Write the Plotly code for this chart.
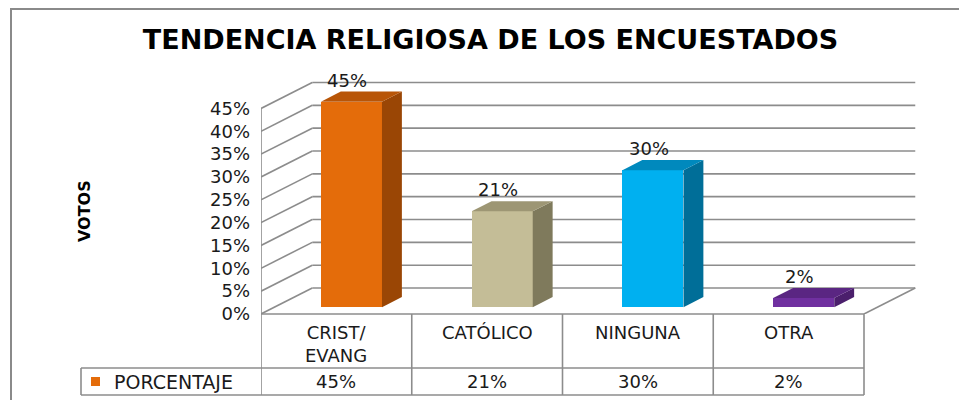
import plotly.graph_objects as go

# ---- data ----
categories = ["CRIST/<br>EVANG", "CATÓLICO", "NINGUNA", "OTRA"]
values = [45, 21, 30, 2]
series_name = "PORCENTAJE"
y_ticks = [0, 5, 10, 15, 20, 25, 30, 35, 40, 45]
title_text = "TENDENCIA RELIGIOSA DE LOS ENCUESTADOS"
y_title = "VOTOS"

# ---- styles ----
front_colors = ["#E46C0A", "#C4BD97", "#00B0F0", "#7030A0"]
side_colors = ["#9A4605", "#7F7A5C", "#006E98", "#4B1F6C"]
top_colors = ["#B85507", "#9D9674", "#0089BD", "#5A2682"]
grid_color = "#8C8C8C"
font_family = "DejaVu Sans"

W, H = 959, 400
L, R, T, B = 261, 42, 60, 86
PW, PH = W - L - R, H - T - B
PX_PER_X = 150.75
PX_PER_V = 4.567
X_MAX = PW / PX_PER_X
Y_MAX = PH / PX_PER_V

DX, DV = 0.34, 5.69          # full depth of the 3D box (axis units)
BX, BV = 0.10, 1.5           # bar front face offset into depth
BDX, BDV = 0.132, 2.2        # bar depth
BW = 0.405                   # bar width
n = len(categories)


def pxp(xpix):
    return (xpix - L) / PW


def pyp(ypix):
    return (H - B - ypix) / PH


fig = go.Figure()
shapes = []
grid_line = dict(color=grid_color, width=1.6)

# gridlines / walls (below traces)
for v in y_ticks:
    shapes.append(dict(type="line", xref="x", yref="y", x0=0, y0=v, x1=DX, y1=v + DV, line=grid_line, layer="below"))
    shapes.append(dict(type="line", xref="x", yref="y", x0=DX, y0=v + DV, x1=n + DX, y1=v + DV, line=grid_line, layer="below"))
shapes.append(dict(type="line", xref="x", yref="y", x0=0, y0=0, x1=0, y1=max(y_ticks), line=grid_line, layer="below"))
shapes.append(dict(type="line", xref="x", yref="y", x0=n, y0=0, x1=n + DX, y1=DV, line=grid_line, layer="below"))

# bars: front faces
xc = [i + 0.5 + BX for i in range(n)]
fig.add_trace(go.Bar(x=xc, y=values, base=BV, width=BW, marker=dict(color=front_colors, line=dict(width=0)),
                     name=series_name, showlegend=False))

# side and top faces
for i, v in enumerate(values):
    xl, xr = xc[i] - BW / 2, xc[i] + BW / 2
    fig.add_trace(go.Scatter(x=[xr, xr + BDX, xr + BDX, xr, xr],
                             y=[BV, BV + BDV, BV + v + BDV, BV + v, BV],
                             fill="toself", fillcolor=side_colors[i], mode="lines",
                             line=dict(width=0, color=side_colors[i]), hoverinfo="skip", showlegend=False))
    fig.add_trace(go.Scatter(x=[xl, xr, xr + BDX, xl + BDX, xl],
                             y=[BV + v, BV + v, BV + v + BDV, BV + v + BDV, BV + v],
                             fill="toself", fillcolor=top_colors[i], mode="lines",
                             line=dict(width=0, color=top_colors[i]), hoverinfo="skip", showlegend=False))

annotations = []
# data labels
for i, v in enumerate(values):
    annotations.append(dict(x=xc[i], y=BV + v + BDV, xref="x", yref="y", text=f"{v}%",
                            showarrow=False, yanchor="bottom", xshift=-4, yshift=-1,
                            font=dict(family=font_family, size=18, color="#1a1a1a")))

# data table
tbl_line = dict(color=grid_color, width=1.6)
row1_top, row2_top, row2_bot = 314, 368, 395
leg_left = 81
shapes.append(dict(type="line", xref="x", yref="paper", x0=0, x1=n, y0=pyp(row1_top), y1=pyp(row1_top), line=tbl_line))
for i in range(n + 1):
    shapes.append(dict(type="line", xref="x", yref="paper", x0=i, x1=i, y0=pyp(row1_top), y1=pyp(row2_bot), line=tbl_line))
for yy in (row2_top, row2_bot):
    shapes.append(dict(type="line", xref="paper", yref="paper", x0=pxp(leg_left), x1=pxp(L + n * PX_PER_X),
                       y0=pyp(yy), y1=pyp(yy), line=tbl_line))
shapes.append(dict(type="line", xref="paper", yref="paper", x0=pxp(leg_left), x1=pxp(leg_left),
                   y0=pyp(row2_top), y1=pyp(row2_bot), line=tbl_line))
# legend key
shapes.append(dict(type="rect", xref="paper", yref="paper", x0=pxp(91), x1=pxp(100), y0=pyp(377), y1=pyp(386),
                   fillcolor=front_colors[0], line=dict(width=0)))
# outer border (top + left visible)
shapes.append(dict(type="rect", xref="paper", yref="paper", x0=pxp(11), x1=pxp(975), y0=pyp(9), y1=pyp(420),
                   line=dict(color="#8A8A8A", width=2), fillcolor="rgba(0,0,0,0)", layer="below"))

for i, c in enumerate(categories):
    annotations.append(dict(x=i + 0.5, y=pyp(320), xref="x", yref="paper", text=c, showarrow=False,
                            yanchor="top", font=dict(family=font_family, size=18, color="#1a1a1a")))
    annotations.append(dict(x=i + 0.5, y=pyp((row2_top + row2_bot) / 2), xref="x", yref="paper",
                            text=f"{values[i]}%", showarrow=False, yanchor="middle",
                            font=dict(family=font_family, size=18, color="#1a1a1a")))
annotations.append(dict(x=pxp(112), y=pyp((row2_top + row2_bot) / 2), xref="paper", yref="paper",
                        text=series_name, showarrow=False, xanchor="left", yanchor="middle",
                        font=dict(family=font_family, size=19, color="#1a1a1a")))
annotations.append(dict(x=pxp(84), y=pyp(211), xref="paper", yref="paper", text=f"<b>{y_title}</b>",
                        showarrow=False, textangle=-90, xanchor="center", yanchor="middle",
                        font=dict(family=font_family, size=16, color="#000000")))

fig.update_layout(
    width=W, height=H,
    margin=dict(l=L, r=R, t=T, b=B, autoexpand=False),
    paper_bgcolor="white", plot_bgcolor="white",
    title=dict(text=f"<b>{title_text}</b>", x=490.5 / W, xanchor="center", y=1 - 40 / H, yanchor="middle",
               yref="container", font=dict(family=font_family, size=27, color="#000000")),
    xaxis=dict(range=[0, X_MAX], visible=False, fixedrange=True),
    yaxis=dict(range=[0, Y_MAX], tickvals=y_ticks, ticktext=[f"{t}%" for t in y_ticks],
               showgrid=False, zeroline=False, showline=False, ticks="", ticklabelstandoff=10,
               tickfont=dict(family=font_family, size=18, color="#1a1a1a"), fixedrange=True),
    shapes=shapes, annotations=annotations, showlegend=False, bargap=0,
)

fig.write_html("out.html", config={"displayModeBar": False},
               post_script="document.body.style.margin='0';document.body.style.padding='0';")
